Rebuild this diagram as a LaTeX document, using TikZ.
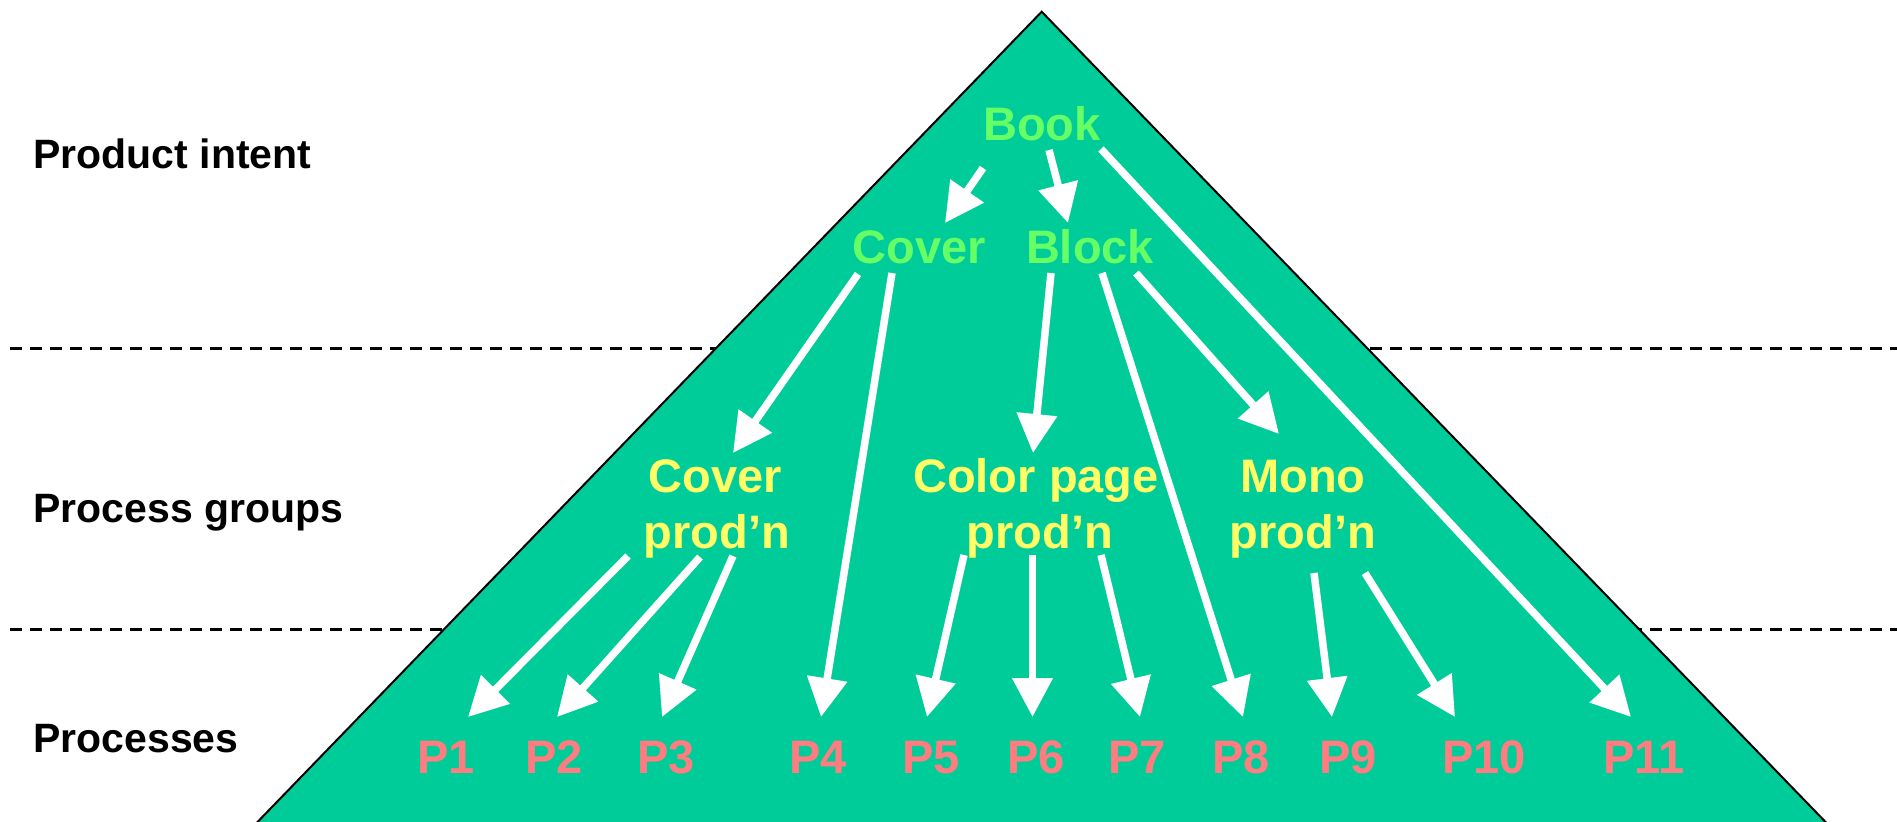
\documentclass[tikz,border=0pt]{standalone}
\usepackage{fontspec}
\setmainfont{Liberation Sans}
\usetikzlibrary{arrows.meta}
\definecolor{tealfill}{HTML}{00CC99}
\definecolor{intentgreen}{HTML}{66FF66}
\definecolor{grpyellow}{HTML}{FFFF66}
\definecolor{procpink}{HTML}{FF7C80}
\begin{document}
\begin{tikzpicture}[x=0.5pt,y=-0.5pt,
  arr/.style={draw=white, line width=3.75pt, -{Triangle[length=19.5pt,width=19.5pt]}},
  lvl/.style={anchor=base west, font=\fontsize{20.5}{24}\selectfont\bfseries, inner sep=0pt},
  intentnode/.style={anchor=base, font=\fontsize{23.5}{28}\selectfont\bfseries, text=intentgreen, inner sep=0pt},
  grpnode/.style={intentnode, text=grpyellow},
  procnode/.style={intentnode, text=procpink},
  sep/.style={draw=black, line width=1.5pt, dash pattern=on 6pt off 4pt}]
\useasboundingbox (0,0) rectangle (1897,821);
% separators
\coordinate (s1a) at (10,348);
\coordinate (s1b) at (1897,348);
\coordinate (s2a) at (10,629);
\coordinate (s2b) at (1897,629);
\draw[sep] (s1a) -- (s1b);
\draw[sep] (s2a) -- (s2b);
% pyramid
\begin{scope}
\clip (0,0) rectangle (1897,821);
\coordinate (apex) at (1041.7,11.7);
\coordinate (bl) at (182,900);
\coordinate (br) at (1901,900);
\fill[tealfill] (apex) -- (bl) -- (br) -- cycle;
\draw[black, line width=1pt] (bl) -- (apex) -- (br);
\end{scope}
% level labels
\node[lvl] (lv1) at (33,168) {Product intent};
\node[lvl] (lv2) at (33,522) {Process groups};
\node[lvl] (lv3) at (33,752) {Processes};
% product intent
\node[intentnode] (book) at (1042,140) {Book};
\node[intentnode] (cover) at (919,263) {Cover};
\node[intentnode] (block) at (1090,263) {Block};
% process groups
\node[grpnode] (covpA) at (715,492) {Cover};
\node[grpnode] (covpB) at (717,548) {prod’n};
\node[grpnode] (colpA) at (1036,492) {Color page};
\node[grpnode] (colpB) at (1040,548) {prod’n};
\node[grpnode] (monoA) at (1303,492) {Mono};
\node[grpnode] (monoB) at (1303,548) {prod’n};
% processes
\node[procnode] (p1) at (446,773) {P1};
\node[procnode] (p2) at (554,773) {P2};
\node[procnode] (p3) at (666,773) {P3};
\node[procnode] (p4) at (818,773) {P4};
\node[procnode] (p5) at (931,773) {P5};
\node[procnode] (p6) at (1036,773) {P6};
\node[procnode] (p7) at (1137,773) {P7};
\node[procnode] (p8) at (1241,773) {P8};
\node[procnode] (p9) at (1348,773) {P9};
\node[procnode] (p10) at (1484,773) {P10};
\node[procnode] (p11) at (1644,773) {P11};
% arrows from Book
\draw[arr] ([shift={(-59,28)}]book.base) -- ([shift={(26,-40)}]cover.base);
\draw[arr] ([shift={(7,10)}]book.base) -- ([shift={(-22,-40)}]block.base);
\draw[arr] ([shift={(59,9)}]book.base) -- ([shift={(-13,-56)}]p11.base);
% arrows from Cover
\draw[arr] ([shift={(-61,11)}]cover.base) -- ([shift={(18,-39)}]covpA.base);
\draw[arr] ([shift={(-27,10)}]cover.base) -- ([shift={(3,-56)}]p4.base);
% arrows from Block
\draw[arr] ([shift={(-39,10)}]block.base) -- ([shift={(-3,-39)}]colpA.base);
\draw[arr] ([shift={(12,10)}]block.base) -- ([shift={(2,-56)}]p8.base);
\draw[arr] ([shift={(46,10)}]block.base) -- ([shift={(-24,-58)}]monoA.base);
% arrows from Cover prod'n
\draw[arr] ([shift={(-89,8)}]covpB.base) -- ([shift={(22,-56)}]p1.base);
\draw[arr] ([shift={(-17,9)}]covpB.base) -- ([shift={(3,-56)}]p2.base);
\draw[arr] ([shift={(16,8)}]covpB.base) -- ([shift={(-4,-56)}]p3.base);
% arrows from Color page prod'n
\draw[arr] ([shift={(-76,7)}]colpB.base) -- ([shift={(-4,-56)}]p5.base);
\draw[arr] ([shift={(-7.5,7)}]colpB.base) -- ([shift={(-3.5,-56)}]p6.base);
\draw[arr] ([shift={(61,7)}]colpB.base) -- ([shift={(3,-56)}]p7.base);
% arrows from Mono prod'n
\draw[arr] ([shift={(11,25)}]monoB.base) -- ([shift={(-16,-56)}]p9.base);
\draw[arr] ([shift={(62,25)}]monoB.base) -- ([shift={(-29,-56)}]p10.base);
\end{tikzpicture}
\end{document}
